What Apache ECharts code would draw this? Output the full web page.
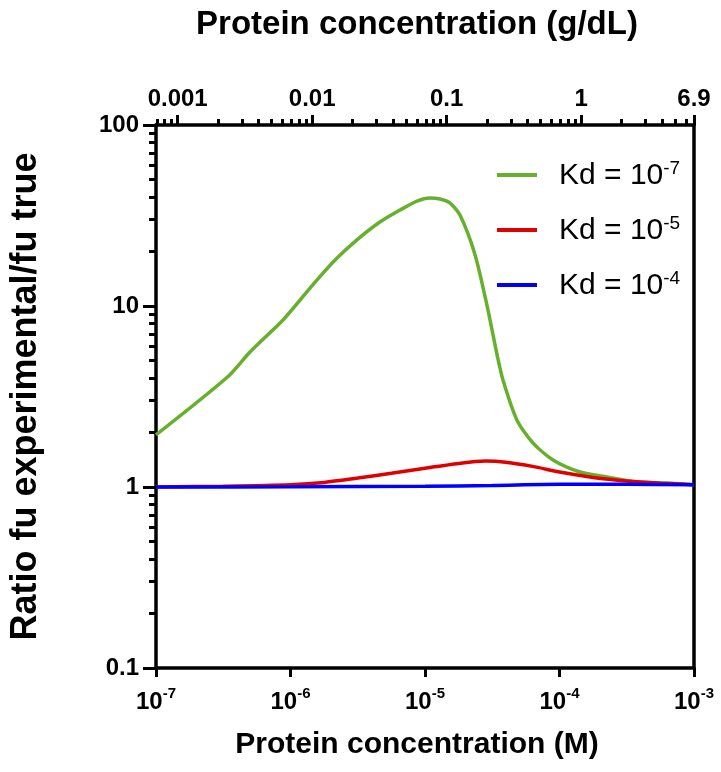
<!DOCTYPE html>
<html>
<head>
<meta charset="utf-8">
<script src="https://cdn.jsdelivr.net/npm/echarts@6/dist/echarts.min.js"></script>
<style>
html,body{margin:0;padding:0;background:#fff;}
#chart{width:721px;height:772px;}
</style>
</head>
<body>
<div id="chart"></div>
<script>
// ---- data ----
const greenX = [1e-7, 3.4e-7, 5.0e-7, 8.8e-7, 1.18e-6, 1.57e-6, 2.22e-6, 3.12e-6, 4.62e-6, 6.52e-6, 8.73e-6, 1.09e-5, 1.29e-5, 1.53e-5, 1.82e-5, 2.36e-5, 2.94e-5, 3.43e-5, 3.80e-5, 4.83e-5, 6.35e-5, 8.95e-5, 1.42e-4, 2.25e-4, 3.77e-4, 6.64e-4, 1e-3];
const greenY = [1.94, 4.05, 5.57, 8.37, 10.8, 13.9, 18.4, 23.2, 29.1, 33.9, 38.0, 39.5, 39.0, 37.1, 31.8, 19.1, 9.5, 5.4, 3.9, 2.34, 1.75, 1.41, 1.21, 1.135, 1.066, 1.05, 1.03];
const redX = [1e-7, 3.16e-7, 1e-6, 1.78e-6, 3.16e-6, 5.62e-6, 1e-5, 1.78e-5, 2.82e-5, 3.98e-5, 6.31e-5, 1e-4, 1.78e-4, 3.16e-4, 5.62e-4, 1e-3];
const redY = [1.0, 1.01, 1.03, 1.06, 1.12, 1.19, 1.27, 1.35, 1.39, 1.37, 1.30, 1.21, 1.13, 1.08, 1.05, 1.03];
const blueX = [1e-7, 1e-6, 1e-5, 3.16e-5, 1e-4, 3.16e-4, 1e-3];
const blueY = [1.0, 1.003, 1.01, 1.02, 1.035, 1.035, 1.03];

const seriesNames = ['Kd = 10^-7', 'Kd = 10^-5', 'Kd = 10^-4'];
const legendBase = ['Kd = 10', 'Kd = 10', 'Kd = 10'];
const legendExp = ['-7', '-5', '-4'];

// tick labels
const bottomTicks = [1e-7, 1e-6, 1e-5, 1e-4, 1e-3];
const bottomExp = ['-7', '-6', '-5', '-4', '-3'];
const topTicks = [0.001, 0.01, 0.1, 1, 6.9];
const topLabels = ['0.001', '0.01', '0.1', '1', '6.9'];
const topMinor = [0.0007, 0.0008, 0.0009, 0.002, 0.003, 0.004, 0.005, 0.006, 0.007, 0.008, 0.009,
  0.02, 0.03, 0.04, 0.05, 0.06, 0.07, 0.08, 0.09, 0.2, 0.3, 0.4, 0.5, 0.6, 0.7, 0.8, 0.9, 2, 3, 4, 5, 6];
const leftTicks = [0.1, 1, 10, 100];
const leftLabels = ['0.1', '1', '10', '100'];
const leftMinor = [0.2, 0.3, 0.4, 0.5, 0.6, 0.7, 0.8, 0.9, 2, 3, 4, 5, 6, 7, 8, 9, 20, 30, 40, 50, 60, 70, 80, 90];

const xTitle = 'Protein concentration (M)';
const topTitle = 'Protein concentration (g/dL)';
const yTitle = 'Ratio fu experimental/fu true';

const colors = ['#66b02e', '#e00000', '#0000ff'];

const FONT = "'Liberation Sans', Arial, sans-serif";
const AXC = '#000';

function pairs(xs, ys) { return xs.map((x, i) => [x, ys[i]]); }
function findIdx(arr, v) {
  let best = 0, bd = Infinity;
  arr.forEach((a, i) => { const d = Math.abs(Math.log10(a) - Math.log10(v)); if (d < bd) { bd = d; best = i; } });
  return bd < 0.01 ? best : -1;
}

const chart = echarts.init(document.getElementById('chart'), null, { renderer: 'canvas' });

const option = {
  animation: false,
  backgroundColor: '#fff',
  grid: { left: 156, right: 27, top: 125, bottom: 104, containLabel: false },
  legend: {
    orient: 'vertical',
    left: 497,
    top: 159,
    padding: 0,
    itemWidth: 40,
    itemHeight: 4,
    itemGap: 23,
    icon: 'rect',
    data: seriesNames,
    formatter: function (name) {
      const i = seriesNames.indexOf(name);
      return '{a|' + legendBase[i] + '}{s|' + legendExp[i] + '}';
    },
    textStyle: {
      color: '#000',
      fontFamily: FONT,
      rich: {
        a: { fontSize: 30, fontFamily: FONT, color: '#000', lineHeight: 32, padding: [0, 0, 0, 17], verticalAlign: 'bottom' },
        s: { fontSize: 19, fontFamily: FONT, color: '#000', lineHeight: 19, verticalAlign: 'top' }
      }
    }
  },
  xAxis: [
    {
      type: 'log', logBase: 10, min: 1e-7, max: 1e-3, position: 'bottom', gridIndex: 0,
      name: xTitle, nameLocation: 'middle', nameGap: 62,
      nameTextStyle: { fontFamily: FONT, fontSize: 30, fontWeight: 'bold', color: '#000', padding: [0, 16, 0, 0] },
      axisLine: { show: true, onZero: false, lineStyle: { color: AXC, width: 3.5 } },
      axisTick: { show: true, inside: false, length: 9, lineStyle: { color: AXC, width: 3 }, customValues: bottomTicks },
      splitLine: { show: false },
      minorTick: { show: false },
      axisLabel: {
        margin: 18,
        customValues: bottomTicks,
        formatter: function (v) {
          const i = findIdx(bottomTicks, v);
          return i < 0 ? '' : '{b|10}{s|' + bottomExp[i] + '}';
        },
        rich: {
          b: { fontSize: 24, fontWeight: 'bold', fontFamily: FONT, color: '#000', lineHeight: 28, verticalAlign: 'bottom' },
          s: { fontSize: 15, fontWeight: 'bold', fontFamily: FONT, color: '#000', lineHeight: 15, verticalAlign: 'top' }
        }
      }
    },
    {
      type: 'log', logBase: 10, min: 1e-7 * 6900, max: 6.9, position: 'top', gridIndex: 0,
      name: topTitle, nameLocation: 'middle', nameGap: 84,
      nameTextStyle: { fontFamily: FONT, fontSize: 33, fontWeight: 'bold', color: '#000', padding: [0, 16, 0, 0] },
      axisLine: { show: true, onZero: false, lineStyle: { color: AXC, width: 3.5 } },
      axisTick: { show: true, inside: false, length: 10, lineStyle: { color: AXC, width: 3 }, customValues: topTicks },
      splitLine: { show: false },
      axisLabel: {
        margin: 14, fontSize: 24, fontWeight: 'bold', fontFamily: FONT, color: '#000',
        customValues: topTicks,
        formatter: function (v) { const i = findIdx(topTicks, v); return i < 0 ? '' : topLabels[i]; }
      }
    },
    {
      type: 'log', logBase: 10, min: 1e-7 * 6900, max: 6.9, position: 'top', gridIndex: 0,
      axisLine: { show: false },
      axisTick: { show: true, inside: false, length: 6, lineStyle: { color: AXC, width: 3 }, customValues: topMinor },
      axisLabel: { show: false },
      splitLine: { show: false }
    }
  ],
  yAxis: [
    {
      type: 'log', logBase: 10, min: 0.1, max: 100, position: 'left', gridIndex: 0,
      name: yTitle, nameLocation: 'middle', nameGap: 112, nameRotate: 90,
      nameTextStyle: { fontFamily: FONT, fontSize: 36, fontWeight: 'bold', color: '#000' },
      axisLine: { show: true, onZero: false, lineStyle: { color: AXC, width: 3.5 } },
      axisTick: { show: true, inside: false, length: 13, lineStyle: { color: AXC, width: 3 }, customValues: leftTicks },
      splitLine: { show: false },
      axisLabel: {
        margin: 17, fontSize: 24, fontWeight: 'bold', fontFamily: FONT, color: '#000',
        customValues: leftTicks,
        formatter: function (v) { const i = findIdx(leftTicks, v); return i < 0 ? '' : leftLabels[i]; }
      }
    },
    {
      type: 'log', logBase: 10, min: 0.1, max: 100, position: 'left', gridIndex: 0,
      axisLine: { show: false },
      axisTick: { show: true, inside: false, length: 7, lineStyle: { color: AXC, width: 3 }, customValues: leftMinor },
      axisLabel: { show: false },
      splitLine: { show: false }
    },
    {
      type: 'log', logBase: 10, min: 0.1, max: 100, position: 'right', gridIndex: 0,
      axisLine: { show: true, onZero: false, lineStyle: { color: AXC, width: 3.5 } },
      axisTick: { show: false },
      axisLabel: { show: false },
      splitLine: { show: false }
    }
  ],
  series: [
    { name: seriesNames[0], type: 'line', xAxisIndex: 0, yAxisIndex: 0, data: pairs(greenX, greenY),
      showSymbol: false, smooth: 0.25, lineStyle: { color: colors[0], width: 3.5 }, itemStyle: { color: colors[0] }, z: 3 },
    { name: seriesNames[1], type: 'line', xAxisIndex: 0, yAxisIndex: 0, data: pairs(redX, redY),
      showSymbol: false, smooth: 0.3, lineStyle: { color: colors[1], width: 3.5 }, itemStyle: { color: colors[1] }, z: 4 },
    { name: seriesNames[2], type: 'line', xAxisIndex: 0, yAxisIndex: 0, data: pairs(blueX, blueY),
      showSymbol: false, smooth: 0.3, lineStyle: { color: colors[2], width: 3.5 }, itemStyle: { color: colors[2] }, z: 5 }
  ]
};
chart.setOption(option);
</script>
</body>
</html>
